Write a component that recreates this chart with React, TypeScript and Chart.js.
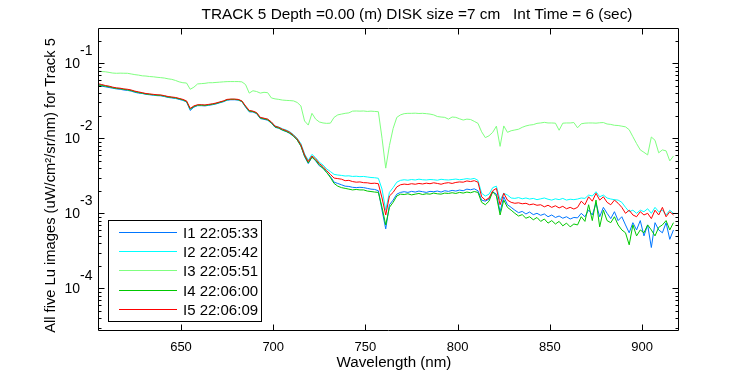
import React, { useEffect, useRef } from "react";
import { Chart, registerables } from "chart.js";

Chart.register(...registerables);

// Wavelength grid (nm)
const wavelengths = [
  605, 607, 609, 611, 613, 615, 617, 619, 621, 623,
  625, 627, 629, 631, 633, 635, 637, 639, 641, 643,
  645, 647, 649, 651, 653, 655, 657, 659, 661, 663,
  665, 667, 669, 671, 673, 675, 677, 679, 681, 683,
  685, 687, 689, 691, 693, 695, 697, 699, 701, 703,
  705, 707, 709, 711, 713, 715, 717, 719, 721, 723,
  725, 727, 729, 731, 733, 735, 737, 739, 741, 743,
  745, 747, 749, 751, 753, 755, 757, 759, 761, 763,
  765, 767, 769, 771, 773, 775, 777, 779, 781, 783,
  785, 787, 789, 791, 793, 795, 797, 799, 801, 803,
  805, 807, 809, 811, 813, 815, 817, 819, 821, 823,
  825, 827, 829, 831, 833, 835, 837, 839, 841, 843,
  845, 847, 849, 851, 853, 855, 857, 859, 861, 863,
  865, 867, 869, 871, 873, 875, 877, 879, 881, 883,
  885, 887, 889, 891, 893, 895, 897, 899, 901, 903,
  905, 907, 909, 911, 913, 915, 917,
];

// Lu values in units of 1e-3 uW/cm^2/sr/nm
const lu1 = [
  50.0, 49.5, 48.5, 47.5, 46.5, 45.5, 45.0, 44.0, 43.5, 42.5,
  41.0, 40.0, 39.5, 38.5, 38.0, 37.5, 37.0, 36.8, 36.0, 35.0,
  34.5, 34.0, 33.0, 32.0, 30.5, 23.5, 26.0, 27.2, 27.2, 27.0,
  27.5, 28.0, 28.7, 29.7, 30.7, 32.2, 32.6, 32.6, 32.3, 30.8,
  26.0, 22.5, 22.4, 21.3, 18.3, 17.9, 17.4, 15.9, 14.0, 13.6,
  12.8, 12.3, 11.6, 10.6, 9.5, 7.9, 5.7, 4.6, 5.6, 5.0,
  4.3, 4.0, 3.5, 3.1, 2.6, 2.5, 2.4, 2.3, 2.28, 2.22,
  2.2, 2.22, 2.2, 2.15, 2.1, 2.08, 2.0, 1.1, 0.62, 1.3,
  1.5, 1.8, 1.9, 1.94, 1.9, 1.96, 1.92, 1.98, 1.94, 1.9,
  1.96, 1.94, 1.98, 1.92, 2.0, 1.96, 2.02, 1.98, 2.04, 2.0,
  2.1, 2.06, 2.12, 2.0, 1.5, 1.45, 1.55, 1.94, 1.8, 1.05,
  1.66, 1.3, 1.2, 1.1, 1.02, 1.06, 0.98, 1.04, 0.96, 1.0,
  0.94, 0.98, 0.9, 0.95, 0.88, 0.92, 0.86, 0.9, 0.84, 0.88,
  0.87, 1.0, 0.9, 1.11, 0.95, 1.36, 0.9, 1.2, 1.0, 0.85,
  1.05, 0.8, 0.9, 0.7, 0.55, 0.75, 0.6, 0.8, 0.5, 0.7,
  0.35, 0.75, 0.6, 0.55, 0.75, 0.45, 0.6,
];

const lu2 = [
  52.5, 51.5, 50.0, 49.0, 47.5, 46.5, 46.0, 45.0, 44.5, 43.5,
  42.0, 41.0, 40.0, 39.2, 38.6, 38.0, 37.6, 37.4, 36.6, 35.6,
  35.0, 34.6, 33.6, 32.6, 31.0, 24.5, 26.6, 27.6, 27.6, 27.4,
  28.0, 28.5, 29.2, 30.2, 31.2, 32.7, 33.0, 33.0, 32.8, 31.2,
  26.6, 23.2, 22.8, 21.8, 18.8, 18.4, 17.9, 16.4, 14.6, 14.1,
  13.4, 12.9, 12.2, 11.2, 10.0, 8.5, 6.2, 5.1, 6.1, 5.5,
  4.8, 4.4, 3.9, 3.6, 3.3, 3.24, 3.2, 3.14, 3.16, 3.1,
  3.12, 3.08, 3.1, 3.05, 3.0, 2.98, 2.93, 2.1, 1.1, 1.9,
  2.2, 2.6, 2.75, 2.8, 2.76, 2.82, 2.78, 2.85, 2.8, 2.78,
  2.82, 2.8, 2.76, 2.84, 2.8, 2.78, 2.82, 2.86, 2.8, 2.84,
  2.9, 2.85, 2.92, 2.75, 1.85, 1.7, 1.8, 2.2, 2.3, 1.5,
  1.85, 1.75, 1.6, 1.58, 1.62, 1.56, 1.6, 1.55, 1.58, 1.52,
  1.56, 1.6, 1.54, 1.5, 1.56, 1.52, 1.58, 1.5, 1.54, 1.52,
  1.55, 1.6, 1.58, 1.75, 1.7, 1.94, 1.66, 1.75, 1.6, 1.55,
  1.52, 1.5, 1.4, 1.2, 1.05, 1.1, 1.0, 1.1, 1.05, 1.15,
  1.0, 1.2, 1.05, 1.1, 0.95, 1.1, 1.0,
];

const lu3 = [
  78.5, 77.5, 77.0, 75.5, 74.0, 73.5, 73.8, 73.6, 73.5, 72.0,
  70.5, 69.5, 68.0, 67.5, 66.5, 66.0, 65.0, 64.3, 63.5, 62.0,
  61.0, 59.0, 56.5, 55.0, 54.5, 45.0, 48.0, 53.0, 53.5, 54.0,
  55.0, 55.0, 55.5, 56.0, 56.5, 56.9, 57.0, 57.0, 57.0, 56.5,
  52.0, 40.0, 43.0, 42.0, 40.0, 41.0, 40.5, 34.5, 33.5, 33.0,
  32.3, 32.0, 31.8, 31.5, 30.0, 27.0, 17.0, 15.0, 21.5, 18.0,
  16.5, 16.0, 15.8, 15.9, 19.0, 20.5, 21.0, 21.5, 21.8, 23.0,
  23.1, 23.0, 23.1, 22.8, 23.0, 22.8, 22.6, 10.0, 4.0, 8.0,
  13.5, 19.0, 20.5, 21.3, 21.5, 21.5, 21.6, 21.4, 21.5, 21.3,
  21.0, 20.5, 19.5, 19.2, 19.0, 18.0, 19.2, 19.0, 18.2, 17.5,
  18.0, 17.8, 16.8, 15.8, 12.2, 10.2, 10.8, 12.0, 14.5, 7.8,
  14.6, 12.0, 12.6, 12.9, 13.2, 14.0, 14.6, 15.0, 15.2, 15.8,
  16.0, 16.3, 16.0, 16.0, 15.9, 12.8, 15.9, 16.0, 16.0, 16.2,
  13.8, 15.6, 15.9, 16.0, 16.0, 15.9, 16.1, 16.2, 15.5, 15.3,
  14.9, 14.8, 14.5, 14.2, 13.0, 10.5, 8.5, 7.0, 6.5, 6.0,
  10.4, 9.4, 6.4, 7.0, 6.8, 5.0, 5.8,
];

const lu4 = [
  51.5, 50.5, 49.5, 48.5, 47.2, 46.2, 45.8, 44.8, 44.2, 43.2,
  41.8, 40.8, 39.9, 39.0, 38.5, 38.0, 37.5, 37.3, 36.5, 35.5,
  35.0, 34.5, 33.5, 32.5, 31.0, 24.5, 26.5, 27.6, 27.6, 27.4,
  27.9, 28.4, 29.1, 30.1, 31.1, 32.6, 33.0, 33.0, 32.6, 31.1,
  26.5, 23.0, 22.7, 21.6, 18.6, 18.2, 17.6, 16.1, 14.2, 13.7,
  12.9, 12.4, 11.7, 10.7, 9.5, 7.9, 5.8, 4.7, 5.6, 5.1,
  4.4, 4.0, 3.5, 3.0, 2.5, 2.3, 2.2, 2.15, 2.1, 2.05,
  2.08, 2.05, 2.05, 1.98, 1.95, 1.92, 1.9, 1.2, 0.7, 1.2,
  1.4, 1.7, 1.8, 1.78, 1.82, 1.76, 1.8, 1.84, 1.78, 1.82,
  1.8, 1.86, 1.82, 1.8, 1.86, 1.84, 1.88, 1.84, 1.9, 1.86,
  1.92, 1.88, 1.95, 1.9, 1.4, 1.3, 1.45, 1.94, 1.7, 0.95,
  1.5, 1.2, 1.1, 1.0, 0.92, 0.96, 0.86, 0.9, 0.82, 0.88,
  0.78, 0.84, 0.74, 0.8, 0.72, 0.78, 0.68, 0.74, 0.66, 0.72,
  0.7, 0.9, 0.78, 1.3, 0.8, 1.5, 0.66, 1.1, 0.8, 0.75,
  0.9, 0.7, 0.6, 0.55, 0.38, 0.7, 0.5, 0.6, 0.55, 0.7,
  0.6, 0.5, 0.65, 0.7, 0.8, 0.6, 0.75,
];

const lu5 = [
  53.5, 52.0, 50.5, 49.5, 48.0, 47.0, 46.5, 45.5, 45.0, 44.0,
  42.5, 41.5, 40.5, 39.5, 39.0, 38.5, 38.0, 37.8, 37.0, 36.0,
  35.5, 35.0, 34.0, 33.0, 31.5, 25.0, 27.0, 28.0, 28.0, 27.8,
  28.3, 28.8, 29.5, 30.5, 31.5, 33.0, 33.3, 33.3, 33.0, 31.5,
  27.0, 23.5, 23.0, 22.0, 19.0, 18.5, 18.0, 16.5, 14.5, 14.0,
  13.2, 12.7, 12.0, 11.0, 9.8, 8.2, 6.0, 4.9, 5.8, 5.3,
  4.6, 4.2, 3.7, 3.3, 2.95, 2.9, 2.85, 2.72, 2.75, 2.65,
  2.6, 2.62, 2.56, 2.55, 2.5, 2.52, 2.48, 1.6, 0.95, 1.7,
  1.9, 2.25, 2.4, 2.45, 2.42, 2.48, 2.44, 2.5, 2.46, 2.52,
  2.48, 2.55, 2.5, 2.44, 2.52, 2.56, 2.5, 2.58, 2.62, 2.6,
  2.7, 2.65, 2.72, 2.6, 1.66, 1.5, 1.6, 2.0, 2.15, 1.3,
  1.85, 1.5, 1.4, 1.36, 1.38, 1.34, 1.36, 1.3, 1.33, 1.28,
  1.3, 1.22, 1.28, 1.2, 1.26, 1.18, 1.24, 1.15, 1.2, 1.14,
  1.2, 1.45, 1.3, 1.66, 1.45, 1.85, 1.5, 1.66, 1.4, 1.3,
  1.5, 1.36, 1.2, 1.0, 1.1, 0.95, 0.9, 1.05, 0.95, 1.0,
  0.85, 1.1, 0.95, 1.2, 0.9, 1.05, 0.95,
];

const seriesLabels = ["I1 22:05:33", "I2 22:05:42", "I3 22:05:51", "I4 22:06:00", "I5 22:06:09"];
const seriesColors = ["rgb(0,118,255)", "rgb(0,255,255)", "rgb(128,255,128)", "rgb(0,200,0)", "rgb(255,0,0)"];
const seriesData = [lu1, lu2, lu3, lu4, lu5];

const xTicks = [650, 700, 750, 800, 850, 900];
const yTickExps = [-4, -3, -2, -1];

const titleText = "TRACK 5 Depth =0.00 (m) DISK size =7 cm   Int Time = 6 (sec)";
const xTitle = "Wavelength (nm)";
const yTitle = "All five Lu images (uW/cm\u00B2/sr/nm) for Track 5";

const FONT = "'Liberation Sans', Arial, Helvetica, sans-serif";

function fitFont(ctx: CanvasRenderingContext2D, text: string, width: number, base: number) {
  ctx.font = `${base}px ${FONT}`;
  const w = ctx.measureText(text).width;
  const size = (base * width) / w;
  ctx.font = `${size}px ${FONT}`;
}

const matlabPlugin = {
  id: "matlabAxes",
  beforeDraw(chart: any) {
    const ctx = chart.ctx as CanvasRenderingContext2D;
    ctx.save();
    ctx.fillStyle = "#fff";
    ctx.fillRect(0, 0, chart.width, chart.height);
    ctx.restore();
  },
  afterDatasetsDraw(chart: any) {
    const ctx = chart.ctx as CanvasRenderingContext2D;
    const { left, right, top, bottom } = chart.chartArea;
    const xs = chart.scales.x;
    const ys = chart.scales.y;
    ctx.save();
    ctx.strokeStyle = "#000";
    ctx.fillStyle = "#000";
    ctx.lineWidth = 1;

    const L = Math.round(left) + 0.5;
    const R = Math.round(right) - 0.5;
    const T = Math.round(top) + 0.5;
    const B = Math.round(bottom) - 0.5;

    // frame
    ctx.beginPath();
    ctx.rect(L, T, R - L, B - T);
    ctx.stroke();

    // x ticks (inward, top and bottom)
    ctx.beginPath();
    for (const t of xTicks) {
      const px = Math.round(xs.getPixelForValue(t)) + 0.5;
      ctx.moveTo(px, B);
      ctx.lineTo(px, B - 6);
      ctx.moveTo(px, T);
      ctx.lineTo(px, T + 6);
    }
    // y ticks (log, major + minor)
    for (let e = -6; e <= 0; e++) {
      for (let m = 1; m <= 9; m++) {
        const v = m * Math.pow(10, e);
        if (v < ys.min || v > ys.max) continue;
        const py = Math.round(ys.getPixelForValue(v)) + 0.5;
        const len = m === 1 ? 6 : 3;
        ctx.moveTo(L, py);
        ctx.lineTo(L + len, py);
        ctx.moveTo(R, py);
        ctx.lineTo(R - len, py);
      }
    }
    ctx.stroke();

    // x tick labels
    ctx.font = `13px ${FONT}`;
    ctx.textAlign = "center";
    ctx.textBaseline = "alphabetic";
    for (const t of xTicks) {
      ctx.fillText(String(t), xs.getPixelForValue(t), 351);
    }

    // y tick labels: 10^e
    for (const e of yTickExps) {
      const py = ys.getPixelForValue(Math.pow(10, e));
      ctx.font = `14px ${FONT}`;
      ctx.textAlign = "right";
      ctx.textBaseline = "middle";
      ctx.fillText("10", 80, py + 1);
      ctx.textAlign = "left";
      ctx.fillText(String(e), 80, py - 12);
    }

    // title
    fitFont(ctx, titleText, 431, 16);
    ctx.textAlign = "center";
    ctx.textBaseline = "alphabetic";
    ctx.fillText(titleText, 417, 18.5);

    // x title
    fitFont(ctx, xTitle, 115, 15);
    ctx.textAlign = "center";
    ctx.textBaseline = "alphabetic";
    ctx.fillText(xTitle, 394, 366.5);

    // y title
    ctx.save();
    ctx.translate(51, 185.5);
    ctx.rotate(-Math.PI / 2);
    fitFont(ctx, yTitle, 295, 15);
    ctx.textAlign = "center";
    ctx.textBaseline = "middle";
    ctx.fillText(yTitle, 0, 0);
    ctx.restore();

    // legend
    const bx = 108.5, by = 220.5, bw = 153, bh = 101;
    ctx.fillStyle = "#fff";
    ctx.fillRect(bx, by, bw, bh);
    ctx.strokeStyle = "#000";
    ctx.strokeRect(bx, by, bw, bh);
    const rows = [232.5, 251.5, 270.5, 290.5, 309.5];
    const ds = chart.data.datasets;
    ctx.font = `15px ${FONT}`;
    ctx.textAlign = "left";
    ctx.textBaseline = "middle";
    for (let i = 0; i < ds.length; i++) {
      const y = rows[i];
      ctx.strokeStyle = ds[i].borderColor;
      ctx.beginPath();
      ctx.moveTo(119, y);
      ctx.lineTo(177, y);
      ctx.stroke();
      ctx.fillStyle = "#000";
      ctx.fillText(ds[i].label, 183, y + 1);
    }
    ctx.restore();
  },
};

export default function App() {
  const canvasRef = useRef<HTMLCanvasElement | null>(null);

  useEffect(() => {
    if (!canvasRef.current) return;
    const datasets = seriesData.map((arr, i) => ({
      label: seriesLabels[i],
      data: wavelengths.map((w, j) => ({ x: w, y: arr[j] * 1e-3 })),
      borderColor: seriesColors[i],
      backgroundColor: seriesColors[i],
      borderWidth: 1,
      pointRadius: 0,
      fill: false,
      tension: 0,
      order: 5 - i,
    }));
    const chart = new Chart(canvasRef.current, {
      type: "line",
      data: { datasets },
      options: {
        animation: false,
        responsive: false,
        devicePixelRatio: 1,
        layout: { padding: { left: 98, top: 28, right: 71, bottom: 44 } },
        plugins: { legend: { display: false }, tooltip: { enabled: false } },
        scales: {
          x: { type: "linear", min: 605, max: 920, display: false },
          y: { type: "logarithmic", min: 2.7e-5, max: 0.295, display: false },
        },
      },
      plugins: [matlabPlugin],
    } as any);
    return () => chart.destroy();
  }, []);

  return (
    <div style={{ position: "absolute", left: 0, top: 0, width: 750, height: 375 }}>
      <canvas ref={canvasRef} width={750} height={375} style={{ width: 750, height: 375 }} />
    </div>
  );
}
